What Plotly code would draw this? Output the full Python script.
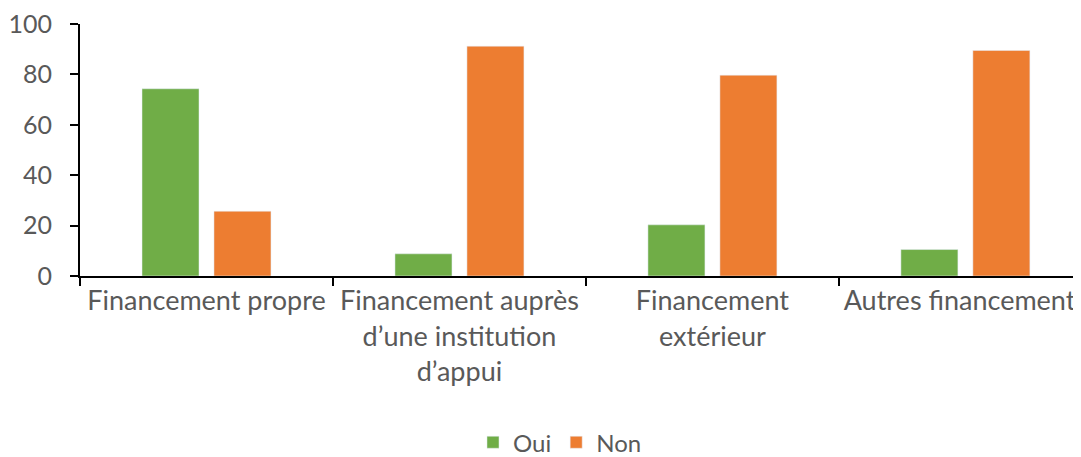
import plotly.graph_objects as go

categories = ["Financement propre", "Financement auprès<br>d’une institution<br>d’appui",
              "Financement<br>extérieur", "Autres financements"]
oui = [74.3, 8.8, 20.3, 10.5]
non = [25.7, 91.2, 79.7, 89.5]
yticks = [0, 20, 40, 60, 80, 100]

FONT = "Lato"
GRAY = "#595959"
FS = 27

fig = go.Figure()
fig.add_trace(go.Bar(name="Oui", x=categories, y=oui, marker_color="#70AD47"))
fig.add_trace(go.Bar(name="Non", x=categories, y=non, marker_color="#ED7D31"))

fig.update_layout(
    width=1073, height=449,
    margin=dict(l=72, r=0, t=16, b=180.5, autoexpand=False),
    plot_bgcolor="white", paper_bgcolor="white",
    barmode="group", bargap=0.431, bargroupgap=0.208,
    font=dict(family=FONT, size=FS, color=GRAY),
    showlegend=True,
    legend=dict(orientation="h", x=0.3926, xanchor="left", y=-0.572, yanchor="top",
                font=dict(family=FONT, size=24, color=GRAY), itemwidth=30,
                traceorder="normal"),
    xaxis=dict(range=[-0.5, 3.457], showline=True, linecolor="black", linewidth=2,
               ticks="outside", tickson="boundaries", ticklen=8, tickwidth=2, tickcolor="black",
               tickfont=dict(family=FONT, size=FS, color=GRAY), showgrid=False,
               automargin=False, ticklabeloverflow="allow"),
    yaxis=dict(range=[0, 100], tickvals=yticks, showline=True, linecolor="black", linewidth=2,
               ticks="outside", ticklen=8, tickwidth=2, tickcolor="black",
               ticklabelstandoff=13, ticklabeloverflow="allow",
               tickfont=dict(family=FONT, size=25, color=GRAY), showgrid=False,
               zeroline=False, automargin=False),
)
fig.write_html("out.html")
